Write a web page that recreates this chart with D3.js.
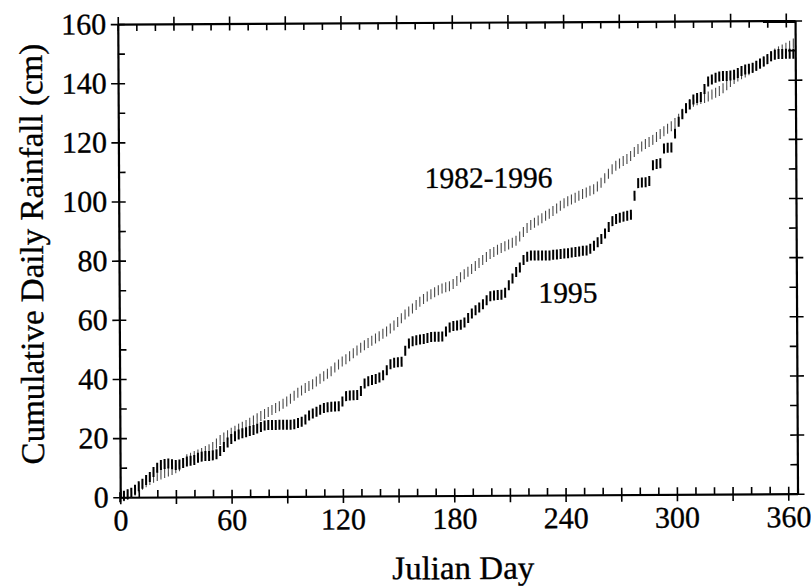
<!DOCTYPE html>
<html>
<head>
<meta charset="utf-8">
<script src="https://cdn.jsdelivr.net/npm/d3@7"></script>
<style>
  html, body { margin: 0; padding: 0; background: #fff; }
  svg { display: block; }
  text { font-family: "Liberation Serif", "Times New Roman", serif; fill: #000; stroke: #000; stroke-width: 0.35px; }
</style>
</head>
<body>
<div id="chart"></div>
<script>
// Cumulative daily rainfall, sampled every second Julian day
const days = d3.range(0, 365, 2);

const rain1995 = [
  0, 0.5, 1, 1.5, 2.5, 3.7, 4.5, 5.8, 6.8, 8.5,
  9.9, 10.8, 11.2, 11.3, 11.1, 10.8, 11, 11.5, 12, 12.2,
  12.5, 13.2, 13.6, 13.8, 13.8, 14, 14.4, 15.5, 16.8, 18.3,
  19.5, 20.4, 21, 21.4, 21.8, 22.2, 22.5, 23, 23.5, 24,
  24.2, 24.2, 24.2, 24.2, 24.2, 24.2, 24.2, 24.4, 24.8, 25.2,
  26, 27.3, 28, 28.6, 29.2, 29.8, 30.1, 30.2, 30.3, 30.4,
  32, 33.8, 34, 34.1, 34.2, 35.5, 38, 38.8, 39.2, 39.5,
  40, 40.8, 42.5, 44.5, 45, 45.2, 45.3, 49, 51.5, 52.2,
  52.6, 52.8, 53, 53.3, 53.6, 53.7, 53.7, 53.8, 55.5, 56.8,
  57.3, 57.5, 57.7, 58.5, 60, 61.5, 62.6, 63.5, 64.6, 66,
  67.3, 67.6, 67.7, 67.8, 68.5, 71, 73.3, 75.5, 77, 79.5,
  80.6, 81, 81, 81, 81, 81, 81, 81.2, 81.3, 81.5,
  81.6, 81.7, 82, 82.1, 82.3, 82.5, 82.6, 83.2, 84.2, 85.4,
  86.5, 88.3, 90.5, 92.5, 93.2, 93.6, 94, 94.3, 94.6, 101,
  105.3, 105.5, 105.6, 106, 111.3, 111.7, 112, 117, 117.2, 117.3,
  122, 126, 128.5, 130.5, 131.8, 133.5, 134, 134.3, 137, 139.5,
  140.2, 140.8, 141.2, 141.4, 141.4, 141.5, 141.8, 142.4, 143, 143.5,
  143.8, 144.1, 144.8, 145.5, 146.2, 147, 148, 148.5, 148.7, 148.7,
  148.8, 148.8, 148.8
];

const rainMean = [
  0, 0.3, 0.8, 1.4, 2.2, 3.2, 4.2, 5, 5.8, 6.5,
  7.1, 7.6, 8.1, 8.6, 9.1, 9.7, 10.4, 11.5, 12.7, 13.2,
  13.8, 14.3, 14.8, 15.5, 16.1, 16.8, 18, 19.2, 20, 20.8,
  21.6, 22.3, 23, 23.6, 24.2, 25, 25.7, 26.5, 27.2, 27.9,
  28.6, 29.2, 29.9, 30.5, 31.3, 32.1, 33, 34, 35, 35.8,
  36.6, 37.3, 37.9, 38.8, 39.7, 40.6, 41.4, 42.2, 43.5, 44.5,
  45.5, 46.3, 47.3, 48.3, 49.2, 50.1, 51, 51.7, 52.5, 53.2,
  54, 54.8, 55.6, 56.6, 57.6, 58.8, 60, 61.3, 62.3, 63.3,
  64.5, 65.6, 66.5, 67.3, 68.1, 68.8, 69.4, 70, 70.4, 70.8,
  71.5, 72.5, 73.8, 74.8, 75.6, 76.6, 77.6, 78.6, 79.6, 80.6,
  81.6, 82.3, 83, 83.6, 84.2, 84.8, 85.4, 86, 87.5, 89,
  90.3, 91.3, 92.1, 92.8, 93.6, 94.4, 95.1, 96, 96.9, 97.8,
  98.6, 99.3, 99.9, 100.5, 101.1, 101.7, 102.2, 102.8, 103.3, 104.2,
  105.5, 107, 108.5, 110, 111.2, 112, 112.8, 113.5, 114.5, 115.8,
  116.8, 117.7, 118.5, 119.2, 119.9, 120.9, 121.9, 122.8, 123.6, 124.5,
  125.6, 127, 128.7, 130.6, 132, 132.7, 133.2, 133.6, 134, 134.5,
  135.1, 135.7, 136.3, 137.2, 138.2, 139.3, 140.3, 141.2, 141.9, 142.5,
  143.3, 144, 144.7, 145.4, 146.2, 147, 148, 148.9, 149.6, 150.2,
  150.8, 151.5, 152.2
];

const seriesLabels = ["1982-1996", "1995"];
const xTickLabels = [0, 60, 120, 180, 240, 300, 360];
const yTickLabels = [0, 20, 40, 60, 80, 100, 120, 140, 160];

const W = 811, H = 586;
const plotL = 119, plotR = 796.3, plotT = 22.3, plotB = 495.5;
const serif = '"Liberation Serif", "Times New Roman", serif';

const x = d3.scaleLinear().domain([0, 365]).range([plotL, plotR]);
const y = d3.scaleLinear().domain([0, 160]).range([plotB, plotT]);

const svg = d3.select("#chart").append("svg")
  .attr("width", W).attr("height", H);

const g = svg.append("g")
  .attr("transform", `rotate(-0.3, ${(plotL + plotR) / 2}, ${(plotT + plotB) / 2})`);

const xMajor = d3.range(0, 361, 30);
const xMinor = d3.range(0, 361, 10);
const yMajor = d3.range(0, 161, 20);
const yMinor = d3.range(0, 161, 10);

function styleAxis(sel, showDomain) {
  sel.attr("font-family", null);
  sel.selectAll(".tick line").attr("stroke", "#000").attr("stroke-width", 1.6);
  sel.select(".domain").attr("stroke", showDomain ? "#000" : "none").attr("stroke-width", 2.2);
  sel.selectAll(".tick text").style("font-size", "30px")
    .style("font-family", serif).attr("fill", "#000");
}

// bottom axis: labelled ticks crossing outward, minor ticks inward
g.append("g").attr("transform", `translate(0,${plotB})`)
  .call(d3.axisBottom(x).tickValues(xMajor).tickSize(7).tickSizeOuter(0).tickPadding(5)
    .tickFormat(d => xTickLabels.includes(d) ? d : ""))
  .call(s => styleAxis(s, true));
g.append("g").attr("transform", `translate(0,${plotB})`)
  .call(d3.axisTop(x).tickValues(xMinor).tickSize(7).tickSizeOuter(0).tickFormat(""))
  .call(s => styleAxis(s, false));

// top axis
g.append("g").attr("transform", `translate(0,${plotT})`)
  .call(d3.axisTop(x).tickValues(xMajor).tickSize(7).tickSizeOuter(0).tickFormat(""))
  .call(s => styleAxis(s, true));
g.append("g").attr("transform", `translate(0,${plotT})`)
  .call(d3.axisBottom(x).tickValues(xMinor).tickSize(7).tickSizeOuter(0).tickFormat(""))
  .call(s => styleAxis(s, false));

// left axis
g.append("g").attr("transform", `translate(${plotL},0)`)
  .call(d3.axisLeft(y).tickValues(yMajor).tickSize(7).tickSizeOuter(0).tickPadding(4.5)
    .tickFormat(d => yTickLabels.includes(d) ? d : ""))
  .call(s => styleAxis(s, true));
g.append("g").attr("transform", `translate(${plotL},0)`)
  .call(d3.axisRight(y).tickValues(yMinor).tickSize(7).tickSizeOuter(0).tickFormat(""))
  .call(s => styleAxis(s, false));

// right axis
g.append("g").attr("transform", `translate(${plotR},0)`)
  .call(d3.axisRight(y).tickValues(yMajor).tickSize(7).tickSizeOuter(0).tickFormat(""))
  .call(s => styleAxis(s, true));
g.append("g").attr("transform", `translate(${plotR},0)`)
  .call(d3.axisLeft(y).tickValues(yMinor).tickSize(7).tickSizeOuter(0).tickFormat(""))
  .call(s => styleAxis(s, false));

// daily values drawn as short vertical dashes
const markHalf = 5;
function drawSeries(values, cls, color, width) {
  g.append("g").attr("class", cls)
    .selectAll("line").data(days.map((d, i) => ({ day: d, v: values[i] })))
    .join("line")
    .attr("x1", d => x(d.day)).attr("x2", d => x(d.day))
    .attr("y1", d => y(d.v) - markHalf).attr("y2", d => y(d.v) + markHalf)
    .attr("stroke", color).attr("stroke-width", width);
}
drawSeries(rainMean, "mean", "#4a4a4a", 1.1);
drawSeries(rain1995, "y1995", "#000", 2);

// series labels
g.append("text").attr("x", x(165)).attr("y", y(104)).style("font-size", "29.5px")
  .text(seriesLabels[0]);
g.append("text").attr("x", x(226)).attr("y", y(65)).style("font-size", "29.5px")
  .text(seriesLabels[1]);

// axis titles
g.append("text").attr("x", (plotL + plotR) / 2 + 4).attr("y", 579)
  .attr("text-anchor", "middle").style("font-size", "33px").text("Julian Day");
g.append("text")
  .attr("transform", `translate(43, ${(plotT + plotB) / 2 - 7}) rotate(-90)`)
  .attr("text-anchor", "middle").style("font-size", "33px")
  .text("Cumulative Daily Rainfall (cm)");
</script>
</body>
</html>
